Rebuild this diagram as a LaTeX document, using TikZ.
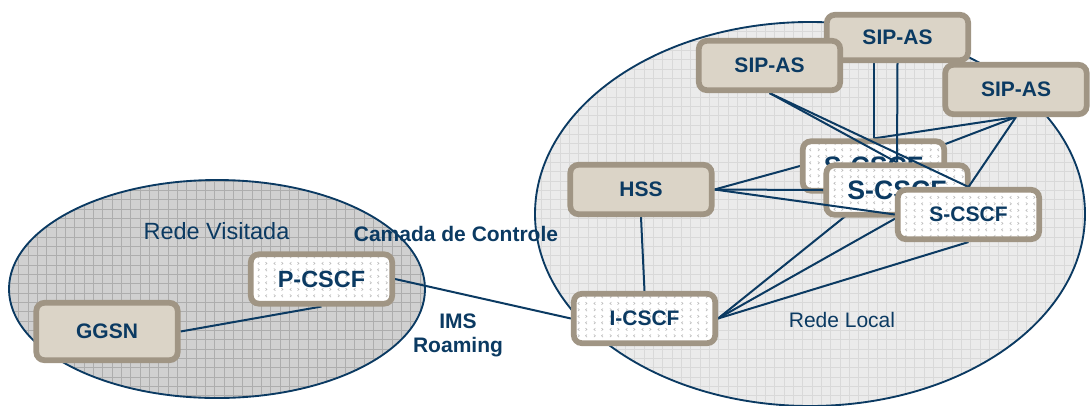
\documentclass[tikz,border=0pt]{standalone}
\usepackage{fontspec}
\setmainfont{Liberation Sans}
\usetikzlibrary{patterns}

\definecolor{navy}{HTML}{0B3A62}
\definecolor{boxedge}{HTML}{A09584}
\definecolor{boxfill}{HTML}{DBD4C7}
\definecolor{visitfill}{HTML}{D0D0D0}
\definecolor{visitgrid}{HTML}{ADADAD}
\definecolor{homefill}{HTML}{EBEBEB}
\definecolor{homegrid}{HTML}{D9D9D9}

% grid texture of the two networks
\pgfdeclarepatternformonly{netgrid}{\pgfqpoint{-1pt}{-1pt}}{\pgfqpoint{7pt}{7pt}}{\pgfqpoint{7pt}{7pt}}{
  \pgfsetlinewidth{0.5pt}
  \pgfpathmoveto{\pgfqpoint{0pt}{0pt}}\pgfpathlineto{\pgfqpoint{0pt}{7.1pt}}
  \pgfpathmoveto{\pgfqpoint{0pt}{0pt}}\pgfpathlineto{\pgfqpoint{7.1pt}{0pt}}
  \pgfusepath{stroke}}

% small chevrons of the CSCF boxes
\pgfdeclarepatternformonly{chevrons}{\pgfqpoint{0pt}{0pt}}{\pgfqpoint{12pt}{10pt}}{\pgfqpoint{12pt}{10pt}}{
  \pgfsetlinewidth{0.45pt}
  \pgfpathmoveto{\pgfqpoint{1.5pt}{1.5pt}}\pgfpathlineto{\pgfqpoint{2.7pt}{2.5pt}}\pgfpathlineto{\pgfqpoint{1.5pt}{3.5pt}}
  \pgfpathmoveto{\pgfqpoint{8.7pt}{1.5pt}}\pgfpathlineto{\pgfqpoint{7.5pt}{2.5pt}}\pgfpathlineto{\pgfqpoint{8.7pt}{3.5pt}}
  \pgfpathmoveto{\pgfqpoint{2.7pt}{6.5pt}}\pgfpathlineto{\pgfqpoint{1.5pt}{7.5pt}}\pgfpathlineto{\pgfqpoint{2.7pt}{8.5pt}}
  \pgfpathmoveto{\pgfqpoint{7.5pt}{6.5pt}}\pgfpathlineto{\pgfqpoint{8.7pt}{7.5pt}}\pgfpathlineto{\pgfqpoint{7.5pt}{8.5pt}}
  \pgfusepath{stroke}}

\pgfdeclarelayer{nets}
\pgfdeclarelayer{wiresA}
\pgfdeclarelayer{scscfback}
\pgfdeclarelayer{wiresB}
\pgfdeclarelayer{scscfmid}
\pgfdeclarelayer{wiresC}
\pgfsetlayers{nets,wiresA,scscfback,wiresB,scscfmid,wiresC,main}

\begin{document}
\begin{tikzpicture}[x=0.75pt, y=-0.75pt,
    box/.style={draw=boxedge, line width=4.3pt, rounded corners=6pt, fill=boxfill, text=navy,
        font=\bfseries\fontsize{15.75}{18}\selectfont, minimum width=106pt, minimum height=37pt, inner sep=0pt},
    cscf/.style={box, preaction={fill=white}, pattern=chevrons, pattern color=black!28},
    net/.style={draw=navy, line width=1.4pt},
    link/.style={draw=navy, line width=1.5pt},
    note/.style={text=navy, inner sep=0pt, font=\bfseries\fontsize{15.75}{18}\selectfont}]

    \useasboundingbox (0,0) rectangle (1090,405);

    % Networks
    \begin{pgfonlayer}{nets}
    \path[net, preaction={fill=visitfill}, pattern=netgrid, pattern color=visitgrid] (217,289) ellipse [x radius=156pt, y radius=81.75pt];
    \path[net, preaction={fill=homefill}, pattern=netgrid, pattern color=homegrid] (810,214) ellipse [x radius=206.25pt, y radius=144pt];
    \end{pgfonlayer}

    \node[note, font=\fontsize{17.6}{20}\selectfont] (visitada) at (216.5,231) {Rede Visitada};
    \node[note, font=\fontsize{15.75}{18}\selectfont] (local) at (842,320) {Rede Local};
    \node[note] (camada) at (456,234) {Camada de Controle};
    \node[note, align=center] (roaming) at (458,335) {IMS\\Roaming};

    % S-CSCF stack
    \begin{pgfonlayer}{scscfback}
    \node[cscf, font=\bfseries\fontsize{20}{24}\selectfont] (scscfA) at (873.5,166) {S-CSCF};
    \end{pgfonlayer}
    \begin{pgfonlayer}{scscfmid}
    \node[cscf, font=\bfseries\fontsize{20}{24}\selectfont] (scscfB) at (897,190) {S-CSCF};
    \end{pgfonlayer}
    \node[cscf] (scscfC) at (968.5,214.5) {S-CSCF};

    % Nodes
    \node[box, minimum height=34pt] (sipB) at (897.5,37.5) {SIP-AS};
    \node[box] (sipA) at (769.5,65.5) {SIP-AS};
    \node[box] (sipC) at (1016,89.5) {SIP-AS};
    \node[box] (hss) at (641,189.5) {HSS};
    \node[cscf] (icscf) at (644.5,318.5) {I-CSCF};
    \node[cscf, font=\bfseries\fontsize{17.6}{20}\selectfont] (pcscf) at (321.5,279) {P-CSCF};
    \node[box, minimum height=43pt] (ggsn) at (107,331.5) {GGSN};

    % Interactions
    \begin{pgfonlayer}{wiresA}
    \draw[link] (ggsn.east) -- (pcscf.south);
    \draw[link] (pcscf.east) -- (icscf.west);
    \draw[link] (hss.south) -- (icscf.north);
    \draw[link] (hss.east) -- (scscfA.west);
    \draw[link] (icscf.east) -- (scscfA.south);
    \draw[link] (sipC.south) -- (scscfB.north);
    \draw[link] (sipC.south) -- (scscfA.north);
    \draw[link] (scscfA.north) -- (scscfA.north |- sipB.south);
    \end{pgfonlayer}
    \begin{pgfonlayer}{wiresB}
    \draw[link] (hss.east) -- (scscfB.west);
    \draw[link] (icscf.east) -- (scscfB.south);
    \draw[link] (sipB.south) -- (scscfB.north);
    \draw[link] (sipA.south) -- (scscfB.north);
    \end{pgfonlayer}
    \begin{pgfonlayer}{wiresC}
    \draw[link] (hss.east) -- (scscfC.west);
    \draw[link] (icscf.east) -- (scscfC.south);
    \draw[link] (sipA.south) -- (scscfC.north);
    \draw[link] (sipC.south) -- (scscfC.north);
    \end{pgfonlayer}

\end{tikzpicture}
\end{document}
